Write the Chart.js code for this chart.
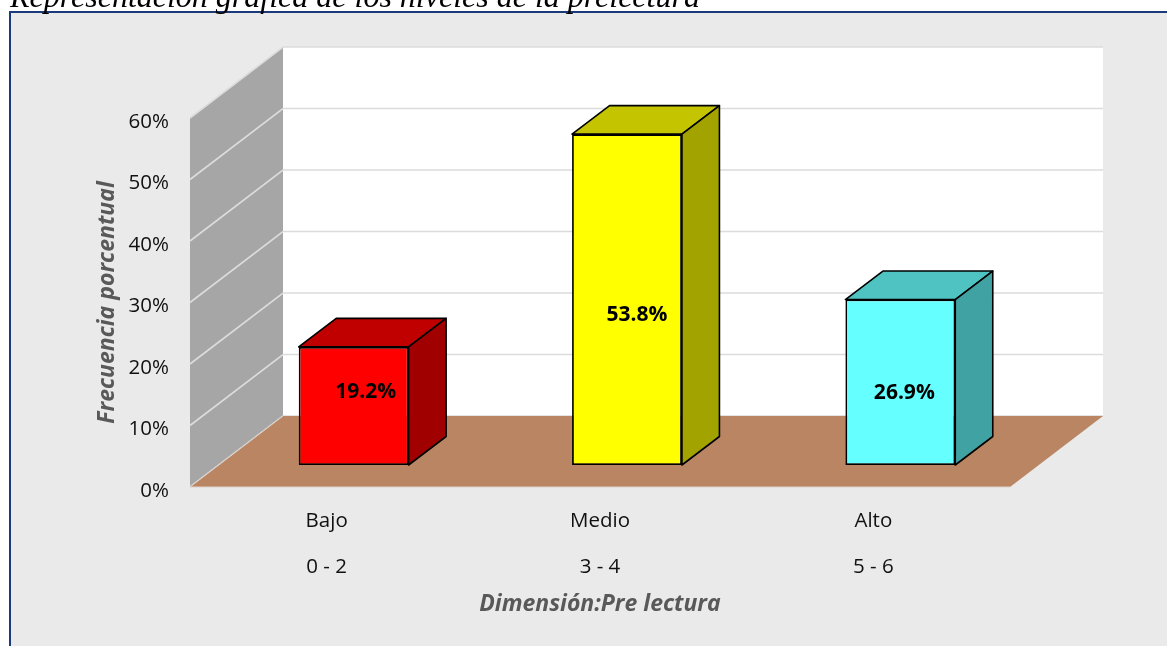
<!DOCTYPE html>
<html lang="es"><head><meta charset="utf-8">
<style>html,body{margin:0;padding:0;background:#fff;overflow:hidden}canvas{display:block}</style>
<script src="https://cdn.jsdelivr.net/npm/chart.js@4"></script>
</head><body>
<canvas id="c" width="1167" height="646"></canvas>
<script>
const categories = [["Bajo","0 - 2"],["Medio","3 - 4"],["Alto","5 - 6"]];
const percentages = [19.2, 53.8, 26.9];
const frontColors = ["#ff0000","#ffff00","#66ffff"];
const topColors = ["#c00000","#c4c400","#4fc2c2"];
const sideColors = ["#a00000","#a3a300","#40a2a2"];
const chartTitle = "Representación gráfica de los niveles de la prelectura";
const yTitle = "Frecuencia porcentual";
const xTitle = "Dimensión:Pre lectura";

const FONT = '"Open Sans", sans-serif';
const WALL = {dx: 93, dy: -71};      // depth of the floor / side wall
const BAR = {tx: 27, ty: -22, dx: 37.5, dy: -28.5}; // bar placement in depth, bar depth
const LABEL = [[12,-14],[10,15],[4,11]];

function poly(ctx, pts, fill, stroke, lw){
  ctx.beginPath();
  pts.forEach((p,i)=> i?ctx.lineTo(p[0],p[1]):ctx.moveTo(p[0],p[1]));
  ctx.closePath();
  if(fill){ctx.fillStyle=fill;ctx.fill();}
  if(stroke){ctx.strokeStyle=stroke;ctx.lineWidth=lw||1;ctx.lineJoin='round';ctx.stroke();}
}

const scene3d = {
  id:'scene3d',
  beforeDraw(chart){
    const ctx=chart.ctx, W=chart.width, H=chart.height;
    const {y:yS}=chart.scales;
    ctx.save();
    ctx.fillStyle='#eaeaea';
    ctx.fillRect(10,12,W-10,H-12);
    ctx.fillStyle='#1b3a7c';
    ctx.fillRect(9,11,W-9,2);
    ctx.fillRect(9,11,2,H-11);
    const L=chart.chartArea.left,R=chart.chartArea.right;
    const y0=yS.getPixelForValue(0), yT=yS.getPixelForValue(60);
    const {dx,dy}=WALL;
    poly(ctx,[[L+dx,yT+dy],[R+dx,yT+dy],[R+dx,y0+dy],[L+dx,y0+dy]],'#ffffff');
    poly(ctx,[[L,yT],[L+dx,yT+dy],[L+dx,y0+dy],[L,y0]],'#a6a6a6');
    yS.ticks.forEach(t=>{
      const p=yS.getPixelForValue(t.value);
      ctx.strokeStyle='#dcdcdc';ctx.lineWidth=1.6;
      ctx.beginPath();ctx.moveTo(L,p);ctx.lineTo(L+dx,p+dy);ctx.lineTo(R+dx,p+dy);ctx.stroke();
    });
    poly(ctx,[[L,y0],[L+dx,y0+dy],[R+dx,y0+dy],[R,y0]],'#b98563');
    ctx.strokeStyle='#dcd2ca';ctx.lineWidth=1;
    ctx.beginPath();ctx.moveTo(L+dx,y0+dy);ctx.lineTo(L,y0);ctx.lineTo(R,y0);ctx.stroke();
    ctx.restore();
  },
  beforeDatasetsDraw(chart){
    chart.ctx.save();
    chart.ctx.translate(BAR.tx,BAR.ty);
  },
  afterDatasetsDraw(chart){
    const ctx=chart.ctx, meta=chart.getDatasetMeta(0);
    const {dx,dy}=BAR;
    meta.data.forEach((b,i)=>{
      const l=b.x-b.width/2,r=b.x+b.width/2,t=b.y,bt=b.base;
      poly(ctx,[[l,t],[l+dx,t+dy],[r+dx,t+dy],[r,t]],topColors[i],'#000',1.6);
      poly(ctx,[[r,t],[r+dx,t+dy],[r+dx,bt+dy],[r,bt]],sideColors[i],'#000',1.6);
      ctx.fillStyle='#000';
      ctx.font='bold 21px '+FONT;
      ctx.textAlign='center';ctx.textBaseline='middle';
      ctx.fillText(percentages[i].toFixed(1)+'%',b.x+LABEL[i][0],(t+bt)/2+LABEL[i][1]);
    });
    ctx.restore();
  }
};

new Chart(document.getElementById('c'),{
  type:'bar',
  data:{labels:categories,datasets:[{
    data:percentages,backgroundColor:frontColors,borderColor:'#000',borderWidth:1.8,borderSkipped:false,
    categoryPercentage:1,barPercentage:0.402
  }]},
  plugins:[scene3d],
  options:{
    responsive:false,animation:false,
    layout:{padding:{left:10,right:157,top:0,bottom:0}},
    plugins:{
      legend:{display:false},tooltip:{enabled:false},
      title:{display:true,text:chartTitle,align:'start',color:'#000',
        font:{family:'"Liberation Serif", serif',style:'italic',weight:'normal',size:32,lineHeight:'29px'},
        padding:{top:-16,bottom:105}}
    },
    scales:{
      x:{
        afterFit(s){s.height=159;},
        grid:{display:false},border:{display:false},
        ticks:{color:'#111',maxRotation:0,autoSkip:false,padding:3,
          font:{family:FONT,size:20.5,lineHeight:'46px'}},
        title:{display:true,text:xTitle,color:'#595959',padding:{bottom:30,top:0},
          font:{family:FONT,style:'italic',weight:'bold',size:23,lineHeight:'24px'}}
      },
      y:{
        min:0,max:60,
        afterFit(s){s.width=180;},
        grid:{display:false},border:{display:false},
        ticks:{stepSize:10,color:'#111',padding:13,labelOffset:4,
          callback:v=>v+'%',font:{family:FONT,size:20.5}},
        title:{display:true,text:yTitle,color:'#595959',padding:{top:85,bottom:0},
          font:{family:FONT,style:'italic',weight:'bold',size:23,lineHeight:'24px'}}
      }
    }
  }
});
</script>
</body></html>
